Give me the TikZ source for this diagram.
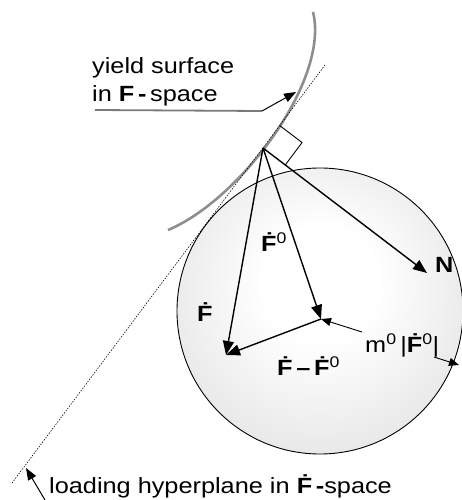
\documentclass[tikz,border=0pt]{standalone}
\usepackage{fontspec}
\setmainfont{Liberation Sans}[FakeStretch=1.15]
\usetikzlibrary{arrows.meta, calc}
\definecolor{surfgray}{HTML}{8E8E8E}
\definecolor{leadgray}{HTML}{7A7A7A}
\pgfdeclareradialshading{ballshade}{\pgfpoint{0bp}{6bp}}{%
  color(0bp)=(white); color(10bp)=(white); color(50bp)=(black!20)}
\newcommand{\Fd}{\textbf{\.F}}
\newcommand{\sz}{\textsuperscript{0}}

\begin{document}
\begin{tikzpicture}[x=1pt, y=-1pt,
    font=\fontsize{22}{28}\selectfont,
    vec/.style={-{Triangle[length=14pt, width=11pt]}, line width=1.4pt},
    pointer/.style={-{Triangle[length=10pt, width=8pt]}, line width=0.9pt},
    lbl/.style={inner sep=0pt, anchor=base west}]
  \useasboundingbox (0,0) rectangle (461,500);
  % sphere of admissible rates
  \coordinate (ctr) at (320,311);
  \shade[shading=ballshade] (ctr) circle[radius=143];
  \draw[line width=0.9pt] (ctr) circle[radius=143];
  % yield surface and loading hyperplane
  \draw[surfgray, line width=2.6pt] (313,12) .. controls (330,80) and (240,200) .. (168,230);
  \coordinate (apex) at (263,148);
  \coordinate (hypTop) at (325,65);
  \coordinate (hypBot) at (12,483);
  \draw[line width=0.6pt, dash pattern=on 1.4pt off 1.4pt] (hypTop) -- (hypBot);
  % vectors
  \coordinate (Ftip) at (226,355);
  \coordinate (F0tip) at (321,319);
  \coordinate (Ntip) at (427,273);
  \foreach \t in {Ftip, F0tip, Ntip}
    \draw[vec] (apex) -- (\t);
  \draw[vec] (F0tip) -- (Ftip);
  % right angle mark
  \coordinate (sqA) at ($(apex)!28pt!(hypTop)$);
  \coordinate (sqC) at ($(apex)!28pt!(Ntip)$);
  \draw[line width=0.9pt] (sqA) -- ($(sqA)+(sqC)-(apex)$) -- (sqC);
  % labels
  \node[lbl] (ys1) at (92,74) {yield surface};
  \node[lbl] (ys2) at (92,102) {in \textbf{F\,-}\,space};
  \node[lbl] (load) at (49,493) {loading hyperplane in \textbf{\.F\,-}space};
  \node[lbl] (F0lbl) at (261,251) {\Fd\sz};
  \node[lbl] (Flbl) at (197,321) {\Fd};
  \node[lbl] (dlbl) at (277,375) {\Fd\,\textbf{--}\,\Fd\sz};
  \node[lbl] (mlbl) at (365,352) {m\sz\,|\Fd\sz|};
  \node[lbl] (Nlbl) at (435,272) {\textbf{N}};
  % leaders
  \coordinate (ysA) at (95,110);
  \coordinate (ysB) at (262,111);
  \coordinate (ysTip) at (296,92);
  \draw[leadgray, line width=1.8pt] (ysA) -- (ysB);
  \draw[-{Triangle[length=12pt, width=9pt]}, line width=1pt] (ysB) -- (ysTip);
  \coordinate (mA) at (362,332);
  \coordinate (mB) at (434,357);
  \coordinate (mC) at (459,365);
  \draw[pointer] (mA) -- (F0tip);
  \draw[pointer] (mB) -- (mC);
  \coordinate (ldTail) at (45,500);
  \coordinate (ldTip) at (26,468);
  \draw[-{Triangle[length=12pt, width=9pt]}, line width=1pt] (ldTail) -- (ldTip);
\end{tikzpicture}
\end{document}
